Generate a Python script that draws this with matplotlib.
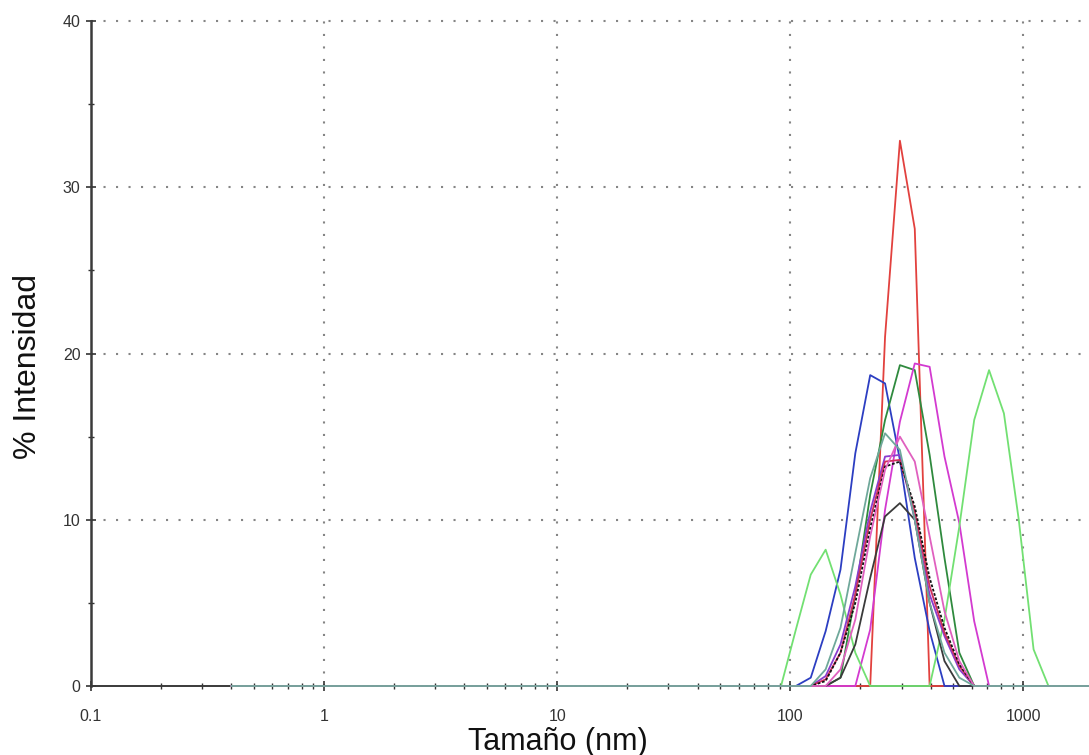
import matplotlib.pyplot as plt
import matplotlib.ticker as ticker
import numpy as np

# Size classes (nm) of the DLS intensity distribution
SIZES = [0.4, 0.4632, 0.5365, 0.6213, 0.7195, 0.8332, 0.9649, 1.117, 1.294, 1.499,
         1.736, 2.01, 2.328, 2.696, 3.122, 3.615, 4.187, 4.849, 5.615, 6.503,
         7.531, 8.721, 10.1, 11.7, 13.54, 15.69, 18.17, 21.04, 24.36, 28.21,
         32.67, 37.84, 43.82, 50.75, 58.77, 68.06, 78.82, 91.28, 105.7, 122.4,
         141.8, 164.2, 190.1, 220.2, 255.0, 295.3, 342.0, 396.1, 458.7, 531.2,
         615.1, 712.4, 825.0, 955.4, 1106, 1281, 1484, 1718, 1990, 2305,
         2669, 3091, 3580, 4145, 4801, 5560, 6439, 7456, 8635, 10000]

# % intensity for the classes 91.28 ... 1281 nm (all other classes are 0)
FIRST = 91.28
red       = [0, 0, 0, 0, 0, 0, 0, 21.0, 32.8, 27.5, 0, 0, 0, 0, 0, 0, 0, 0, 0]
blue      = [0, 0, 0.5, 3.3, 7.0, 14.0, 18.7, 18.2, 13.6, 7.7, 3.3, 0, 0, 0, 0, 0, 0, 0, 0]
dk_green  = [0, 0, 0, 0, 0.5, 5.5, 11.5, 16.0, 19.3, 19.0, 13.9, 7.7, 2.0, 0, 0, 0, 0, 0, 0]
magenta   = [0, 0, 0, 0, 0, 0, 3.4, 10.6, 15.9, 19.4, 19.2, 13.8, 9.8, 3.9, 0, 0, 0, 0, 0]
lt_green  = [0, 3.4, 6.7, 8.2, 5.5, 2.0, 0, 0, 0, 0, 0, 4.0, 9.6, 16.0, 19.0, 16.4, 10.0, 2.2, 0]
dk_gray   = [0, 0, 0, 0, 0.5, 2.5, 6.5, 10.2, 11.0, 10.0, 5.0, 1.5, 0, 0, 0, 0, 0, 0, 0]
violet    = [0, 0, 0, 0.6, 2.5, 6.0, 10.5, 13.8, 13.9, 10.0, 5.5, 3.0, 1.0, 0, 0, 0, 0, 0, 0]
crimson   = [0, 0, 0, 0.4, 2.0, 5.5, 10.0, 13.5, 13.6, 10.5, 6.0, 3.2, 1.2, 0, 0, 0, 0, 0, 0]
black     = [0, 0, 0, 0.3, 2.0, 5.0, 9.5, 13.2, 13.5, 10.8, 6.5, 3.5, 1.3, 0, 0, 0, 0, 0, 0]
pink      = [0, 0, 0, 0, 1.0, 4.0, 9.0, 13.0, 15.0, 13.5, 9.0, 4.5, 1.5, 0, 0, 0, 0, 0, 0]
gray_grn  = [0, 0, 0, 1.0, 3.5, 8.0, 12.5, 15.2, 14.2, 10.0, 5.0, 2.0, 0.5, 0, 0, 0, 0, 0, 0]

SERIES = [
    (red,      '#e2413e', '-'),
    (blue,     '#2c3ec2', '-'),
    (dk_green, '#2f8a3e', '-'),
    (magenta,  '#d33ad0', '-'),
    (lt_green, '#72e072', '-'),
    (dk_gray,  '#3a3a3a', '-'),
    (violet,   '#8a3ccf', '-'),
    (crimson,  '#d02f5c', '-'),
    (black,    '#111111', (0, (1.5, 1))),
    (pink,     '#e060bf', '-'),
    (gray_grn, '#6fa89a', '-'),
]

sizes = np.array(SIZES)
start = SIZES.index(FIRST)

fig = plt.figure(figsize=(10.89, 7.55), dpi=100)
ax = fig.add_axes([91 / 1089, 1 - 686 / 755, 1 - 91 / 1089, (686 - 21) / 755])

for vals, col, ls in SERIES:
    y = np.zeros(len(sizes))
    y[start:start + len(vals)] = vals
    ax.plot(sizes, y, color=col, lw=1.3, ls=ls, zorder=3, clip_on=False)

ax.set_xscale('log')
ax.set_xlim(0.1, 1912)
ax.set_ylim(0, 40)

ax.xaxis.set_major_locator(ticker.FixedLocator([0.1, 1, 10, 100, 1000]))
ax.xaxis.set_major_formatter(ticker.FixedFormatter(['0.1', '1', '10', '100', '1000']))
ax.xaxis.set_minor_locator(ticker.LogLocator(base=10, subs=np.arange(2, 10), numticks=20))
ax.xaxis.set_minor_formatter(ticker.NullFormatter())
ax.yaxis.set_major_locator(ticker.MultipleLocator(10))
ax.yaxis.set_minor_locator(ticker.MultipleLocator(5))

ax.tick_params(axis='both', which='major', direction='inout', length=7, width=1.2,
               color='#333333', labelsize=11.5, labelcolor='#333333')
ax.tick_params(axis='both', which='minor', direction='inout', length=4, width=1.0,
               color='#333333')
ax.tick_params(axis='x', which='major', pad=13)
ax.tick_params(axis='y', which='major', pad=4)

for side in ('top', 'right'):
    ax.spines[side].set_visible(False)
ax.spines['left'].set_color('#3a3a3a')
ax.spines['left'].set_linewidth(1.8)
ax.spines['bottom'].set_color('#3a3a3a')
ax.spines['bottom'].set_linewidth(1.4)

# dotted grid at the decades and every 10 %
for gx in [1, 10, 100, 1000]:
    ax.axvline(gx, color='#858585', lw=1.5, ls=(0, (1, 5)), zorder=1)
for gy in [10, 20, 30, 40]:
    ax.axhline(gy, color='#858585', lw=1.5, ls=(0, (1, 5)), zorder=1, clip_on=False)

fig.text(558 / 1089, 1 - 750 / 755, 'Tamaño (nm)', ha='center', va='baseline',
         fontsize=22, family='Liberation Sans', color='#111111')
fig.text(28 / 1089, 1 - 366 / 755, '% Intensidad', ha='center', va='center',
         rotation=90, fontsize=23, family='Liberation Sans', color='#111111')
for lbl in ax.get_xticklabels() + ax.get_yticklabels():
    lbl.set_family('Liberation Sans')

fig.savefig('out.png', dpi=100)
